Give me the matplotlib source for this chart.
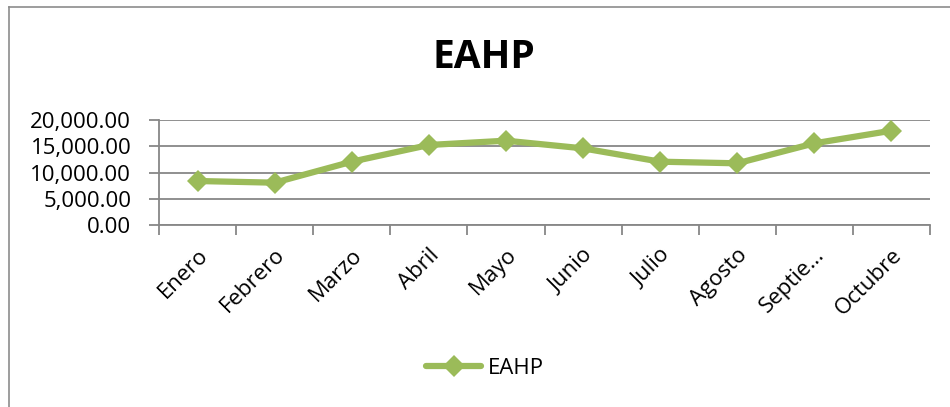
import matplotlib
matplotlib.use("Agg")
import matplotlib.pyplot as plt
from matplotlib.lines import Line2D

plt.rcParams['font.family'] = ['Open Sans', 'DejaVu Sans']

months = ["Enero", "Febrero", "Marzo", "Abril", "Mayo", "Junio",
          "Julio", "Agosto", "Septie…", "Octubre"]
eahp = [8380, 8060, 12060, 15240, 16060, 14600, 12060, 11750, 15560, 17960]
y_ticks = [0, 5000, 10000, 15000, 20000]

green = "#9BBB59"
grid_gray = "#878787"

W, H = 950, 407
fig = plt.figure(figsize=(W / 100, H / 100), dpi=100)
fig.patch.set_facecolor("white")

# chart-area frame (left and top edges visible)
fig.add_artist(Line2D([8.5 / W, 8.5 / W], [0, 1 - 7 / H], transform=fig.transFigure,
                      color="#8c8c8c", lw=1.2))
fig.add_artist(Line2D([8.5 / W, 1], [1 - 7 / H, 1 - 7 / H], transform=fig.transFigure,
                      color="#8c8c8c", lw=1.2))

left, right, top, bottom = 159, 930, 120, 225
ax = fig.add_axes([left / W, 1 - bottom / H, (right - left) / W, (bottom - top) / H])

x = list(range(len(months)))
ax.plot(x, eahp, color=green, lw=4.5, marker="D", ms=11, mew=0,
        solid_joinstyle="round", solid_capstyle="round", label="EAHP", zorder=3)

ax.set_xlim(-0.5, len(months) - 0.5)
ax.set_ylim(0, 20000)
ax.set_yticks(y_ticks)
ax.set_yticklabels([f"{v:,.2f}" for v in y_ticks])
ax.yaxis.grid(True, color=grid_gray, lw=1.3)
ax.set_axisbelow(True)

for side in ("top", "right"):
    ax.spines[side].set_visible(False)
for side in ("left", "bottom"):
    ax.spines[side].set_color(grid_gray)
    ax.spines[side].set_linewidth(1.3)

ax.tick_params(axis="y", length=7, width=1.3, color=grid_gray, pad=13,
               labelsize=16, labelcolor="black")

# boundary ticks between categories, labels at category centres
ax.set_xticks([i - 0.5 for i in range(len(months) + 1)], minor=False)
ax.set_xticklabels([""] * (len(months) + 1))
ax.tick_params(axis="x", which="major", length=7, width=1.3, color=grid_gray)
ax.set_xticks(x, minor=True)
ax.set_xticklabels(months, minor=True, rotation=45, ha="right",
                   rotation_mode="anchor", fontsize=16)
ax.tick_params(axis="x", which="minor", length=0, pad=14)

fig.text(484 / W, 1 - 58 / H, "EAHP", ha="center", va="center",
         fontsize=28, fontweight="bold")

fig.legend(handles=[Line2D([0], [0], color=green, lw=4.5, marker="D", ms=11, mew=0,
                           solid_capstyle="round")],
           labels=["EAHP"], loc="center", bbox_to_anchor=(485 / W, 1 - 368 / H),
           frameon=False, fontsize=16, handlelength=2.5, handletextpad=0.3)

fig.savefig("out.png", dpi=100, facecolor="white")
